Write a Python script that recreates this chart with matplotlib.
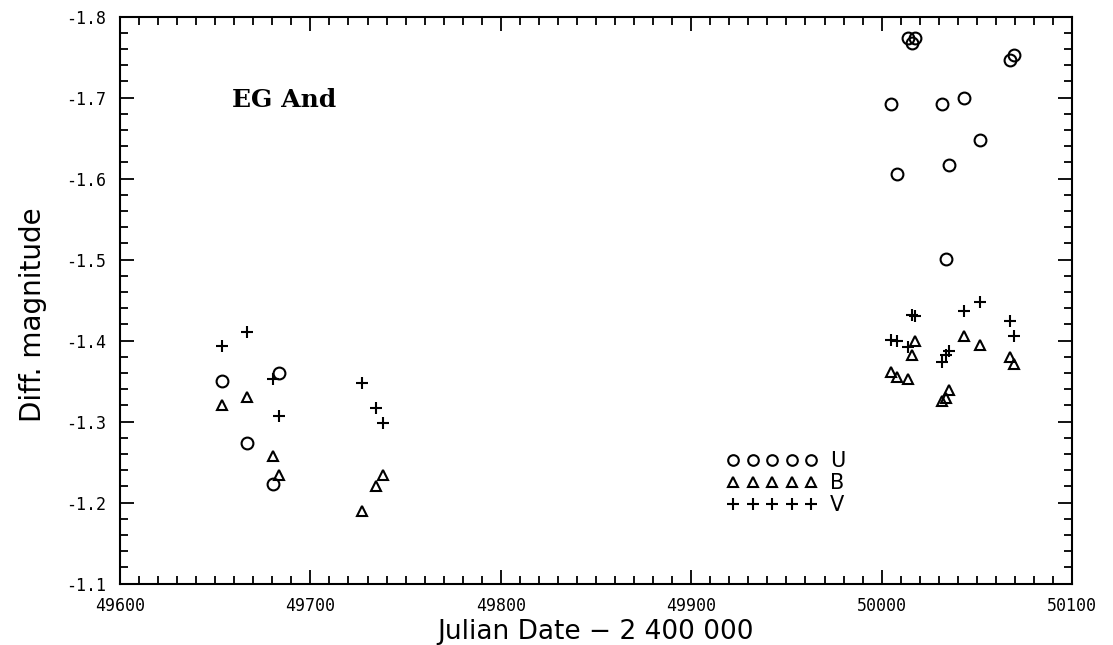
import matplotlib.pyplot as plt
from matplotlib.ticker import MultipleLocator, FormatStrFormatter

plt.rcParams['font.family'] = 'DejaVu Sans Mono'

# U band
jd_u = [49653.6, 49666.5, 49680.5, 49683.6,
        50004.7, 50008.1, 50013.9, 50016.0, 50017.3, 50031.5,
        50034.0, 50035.2, 50043.4, 50051.7, 50067.4, 50069.3]
mag_u = [-1.350, -1.274, -1.223, -1.360,
         -1.692, -1.606, -1.774, -1.767, -1.774, -1.692,
         -1.501, -1.617, -1.699, -1.648, -1.746, -1.752]

# B and V bands
jd_bv = [49653.6, 49666.5, 49680.5, 49683.6, 49727.3, 49734.5, 49738.0,
         50004.7, 50008.1, 50013.9, 50016.0, 50017.3, 50031.5,
         50034.0, 50035.2, 50043.4, 50051.7, 50067.4, 50069.3]
mag_b = [-1.320, -1.330, -1.257, -1.234, -1.189, -1.220, -1.234,
         -1.361, -1.355, -1.353, -1.382, -1.399, -1.325,
         -1.329, -1.339, -1.405, -1.395, -1.380, -1.371]
mag_v = [-1.393, -1.410, -1.353, -1.307, -1.348, -1.317, -1.298,
         -1.401, -1.399, -1.392, -1.431, -1.430, -1.374,
         -1.382, -1.387, -1.436, -1.447, -1.424, -1.406]

fig = plt.figure(figsize=(11.13, 6.45), dpi=100)
ax = fig.add_axes([0.1078, 0.0953, 0.8554, 0.8791])

ax.plot(jd_u, mag_u, 'o', ms=8.5, mfc='none', mec='black', mew=1.5, label='U')
ax.plot(jd_bv, mag_b, '^', ms=7.5, mfc='none', mec='black', mew=1.5, label='B')
ax.plot(jd_bv, mag_v, '+', ms=9, mec='black', mew=1.5, label='V')

ax.set_xlim(49600, 50100)
ax.set_ylim(-1.1, -1.8)

ax.xaxis.set_major_locator(MultipleLocator(100))
ax.xaxis.set_minor_locator(MultipleLocator(10))
ax.yaxis.set_major_locator(MultipleLocator(0.1))
ax.yaxis.set_minor_locator(MultipleLocator(0.02))
ax.xaxis.set_major_formatter(FormatStrFormatter('%d'))
ax.yaxis.set_major_formatter(FormatStrFormatter('%.1f'))

ax.tick_params(which='both', direction='in', top=True, right=True,
               width=1.3, labelsize=12, pad=10)
ax.tick_params(which='major', length=10)
ax.tick_params(which='minor', length=6)
for s in ax.spines.values():
    s.set_linewidth(1.5)

ax.set_xlabel('Julian Date \u2212 2 400 000', family='DejaVu Sans', size=19)
ax.set_ylabel('Diff. magnitude', family='DejaVu Sans', size=20)
ax.xaxis.set_label_coords(0.5, -0.062)
ax.yaxis.set_label_coords(-0.077, 0.4735)

ax.text(49658.8, -1.697, 'EG And', family='DejaVu Serif', weight='bold',
        size=18, ha='left', va='center')

ax.legend(loc='center left', bbox_to_anchor=(0.6376, 0.177), numpoints=5,
          frameon=False, borderpad=0, borderaxespad=0, handlelength=4.35,
          handletextpad=0.6, labelspacing=0.1, markerscale=0.9,
          prop={'family': 'DejaVu Sans', 'size': 15})

fig.savefig('out.png', dpi=100)
